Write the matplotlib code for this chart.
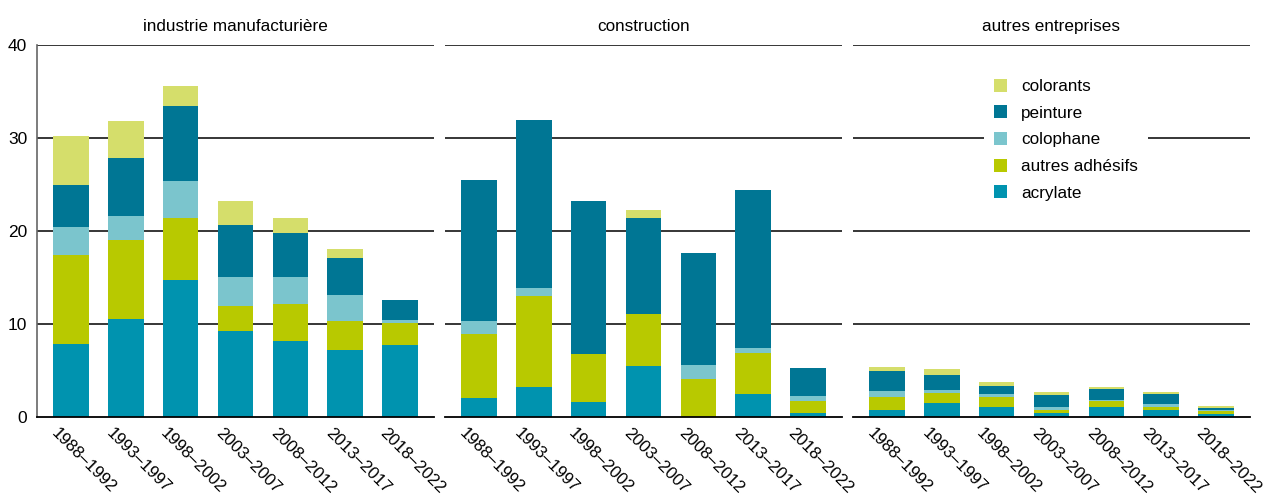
import matplotlib
matplotlib.use("Agg")

import matplotlib.pyplot as plt
import numpy as np
from matplotlib.transforms import ScaledTranslation

plt.rcParams["font.family"] = ["Liberation Sans", "DejaVu Sans"]
plt.rcParams["font.size"] = 12.3

periods = ["1988–1992", "1993–1997", "1998–2002", "2003–2007",
           "2008–2012", "2013–2017", "2018–2022"]
sectors = ["industrie manufacturière", "construction", "autres entreprises"]
series = ["acrylate", "autres adhésifs", "colophane", "peinture", "colorants"]
colors = ["#0093af", "#b8c900", "#7bc5cd", "#007694", "#d5de6b"]

# values per sector, one list per series (bottom to top)
manuf_acrylate = [7.9, 10.5, 14.7, 9.3, 8.2, 7.25, 7.7]
manuf_adhesifs = [9.55, 8.5, 6.7, 2.6, 4.0, 3.1, 2.45]
manuf_colophane = [3.0, 2.6, 4.0, 3.1, 2.8, 2.8, 0.3]
manuf_peinture = [4.5, 6.2, 8.0, 5.6, 4.8, 3.9, 2.15]
manuf_colorants = [5.3, 4.0, 2.15, 2.6, 1.6, 1.0, 0.0]

constr_acrylate = [2.0, 3.25, 1.65, 5.5, 0.0, 2.5, 0.45]
constr_adhesifs = [6.9, 9.8, 5.15, 5.6, 4.1, 4.4, 1.3]
constr_colophane = [1.4, 0.85, 0.0, 0.0, 1.5, 0.55, 0.55]
constr_peinture = [15.15, 18.05, 16.45, 10.3, 12.05, 17.0, 3.0]
constr_colorants = [0.0, 0.0, 0.0, 0.85, 0.0, 0.0, 0.0]

autres_acrylate = [0.7, 1.55, 1.1, 0.45, 1.1, 0.8, 0.35]
autres_adhesifs = [1.4, 1.05, 1.1, 0.35, 0.65, 0.3, 0.3]
autres_colophane = [0.65, 0.35, 0.3, 0.3, 0.1, 0.3, 0.05]
autres_peinture = [2.15, 1.6, 0.85, 1.3, 1.2, 1.1, 0.3]
autres_colorants = [0.45, 0.65, 0.45, 0.3, 0.2, 0.2, 0.2]

data = [
    [manuf_acrylate, manuf_adhesifs, manuf_colophane, manuf_peinture, manuf_colorants],
    [constr_acrylate, constr_adhesifs, constr_colophane, constr_peinture, constr_colorants],
    [autres_acrylate, autres_adhesifs, autres_colophane, autres_peinture, autres_colorants],
]

W, H = 1269, 498
fig = plt.figure(figsize=(W / 100, H / 100), dpi=100)

lefts = [37, 445, 853]
x = np.arange(len(periods))
for i, left in enumerate(lefts):
    ax = fig.add_axes([left / W, (H - 417) / H, 397 / W, 372 / H])
    bottom = np.zeros(len(periods))
    handles = []
    for name, vals, c in zip(series, data[i], colors):
        b = ax.bar(x, vals, 0.65, bottom=bottom, color=c, label=name, zorder=3)
        handles.append(b)
        bottom += np.array(vals)
    ax.set_xlim(-0.62, 6.62)
    ax.set_ylim(0, 40)
    ax.set_yticks([0, 10, 20, 30, 40])
    for yv in [10, 20, 30, 40]:
        ax.axhline(yv, color="black", lw=1.1, zorder=1)
    ax.set_title(sectors[i], pad=10, fontsize=12.3)
    for s in ["top", "right"]:
        ax.spines[s].set_visible(False)
    ax.spines["bottom"].set_color("black")
    ax.spines["bottom"].set_linewidth(1.3)
    ax.spines["bottom"].set_zorder(4)
    if i == 0:
        ax.spines["left"].set_color("#666666")
        ax.spines["left"].set_linewidth(1.2)
        ax.tick_params(axis="y", length=0, pad=7, labelsize=12.5)
    else:
        ax.spines["left"].set_visible(False)
        ax.tick_params(axis="y", length=0, labelleft=False)
    ax.set_xticks(x)
    ax.set_xticklabels(periods, rotation=-45, ha="left", va="top",
                       rotation_mode="anchor", fontsize=12.2)
    ax.tick_params(axis="x", length=0, pad=6)
    offset = ScaledTranslation(-0.12, 0, fig.dpi_scale_trans)
    for lab in ax.get_xticklabels():
        lab.set_transform(lab.get_transform() + offset)

    if i == 2:
        leg = ax.legend(handles[::-1], series[::-1], loc="upper left",
                        bbox_to_anchor=((975 - 853) / 397, (417 - 60) / 372),
                        frameon=True, facecolor="white", edgecolor="none",
                        framealpha=1, handlelength=0.8, handleheight=0.8,
                        labelspacing=0.65, handletextpad=0.8, borderpad=0.6,
                        fontsize=12.3)
        leg.set_zorder(5)

fig.savefig("out.png", dpi=100)
